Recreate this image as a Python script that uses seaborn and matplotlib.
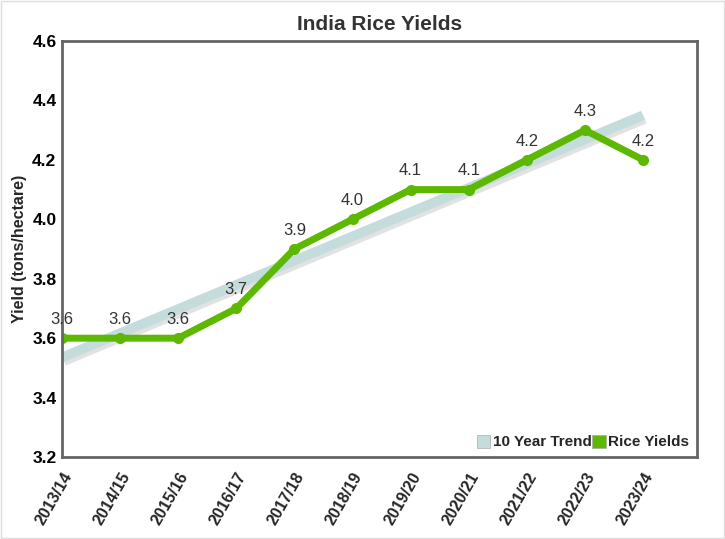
import matplotlib
matplotlib.use("Agg")
import matplotlib.pyplot as plt
import seaborn as sns
import pandas as pd
from matplotlib.patches import Patch

sns.set_style("white")
plt.rcParams['font.family'] = ['Liberation Sans', 'DejaVu Sans']

# Data
years = ["2013/14", "2014/15", "2015/16", "2016/17", "2017/18", "2018/19",
         "2019/20", "2020/21", "2021/22", "2022/23", "2023/24"]
yields = [3.6, 3.6, 3.6, 3.7, 3.9, 4.0, 4.1, 4.1, 4.2, 4.3, 4.2]
trend_years = ["2013/14", "2023/24"]
trend_values = [3.535, 4.35]

df = pd.DataFrame({"year": years, "yield": yields})
df["pos"] = range(len(df))
trend = pd.DataFrame({"year": trend_years, "value": trend_values})
trend["pos"] = [years.index(y) for y in trend_years]

green = "#5cb800"
trend_col = "#c4dcdc"

fig = plt.figure(figsize=(7.25, 5.39), dpi=100)
ax = fig.add_axes([0.0855, 0.152, 0.876, 0.772])

# trend line with faint shadow
sns.lineplot(x=trend["pos"] + 0.03, y=trend["value"] - 0.012, ax=ax,
             color="#e2e2e2", linewidth=7, solid_capstyle="butt")
sns.lineplot(data=trend, x="pos", y="value", ax=ax,
             color=trend_col, linewidth=7, solid_capstyle="butt")
sns.lineplot(data=df, x="pos", y="yield", ax=ax, color=green,
             linewidth=5, marker="o", markersize=8, markeredgewidth=0)

for p, v in zip(df["pos"], df["yield"]):
    ax.annotate(f"{v:.1f}", (p, v), xytext=(0, 8), textcoords="offset points",
                ha="center", va="bottom", fontsize=12, color="#333333")

ax.set_xlim(0, 10.93)
ax.set_ylim(3.2, 4.6)
ax.set_yticks([3.2, 3.4, 3.6, 3.8, 4.0, 4.2, 4.4, 4.6])
ax.set_yticklabels([f"{t:.1f}" for t in ax.get_yticks()],
                   fontsize=12.5, fontweight="bold", color="#000000")
ax.set_xticks(df["pos"])
ax.set_xticklabels(years, rotation=60, ha="right", rotation_mode="anchor",
                   fontsize=11.5, fontweight="bold")
ax.tick_params(axis="x", length=0, pad=9)
ax.tick_params(axis="y", length=0, pad=4)
ax.set_xlabel("")
ax.set_ylabel("Yield (tons/hectare)", fontsize=11.5, fontweight="bold", labelpad=4)
ax.set_title("India Rice Yields", fontsize=15, fontweight="bold",
             color="#333333", pad=8)

for s in ax.spines.values():
    s.set_color("#666666")
    s.set_linewidth(2)

handles = [Patch(facecolor=trend_col, edgecolor="#aaaaaa", linewidth=0.5,
                 label="10 Year Trend"),
           Patch(facecolor=green, edgecolor="#aaaaaa", linewidth=0.5,
                 label="Rice Yields")]
leg = ax.legend(handles=handles, loc="lower right", ncol=2, frameon=False,
                handlelength=0.9, handleheight=0.9, handletextpad=0.15,
                columnspacing=0.05, borderaxespad=0.1,
                prop={"size": 11, "weight": "bold"})

fig.patches.append(plt.Rectangle((0.002, 0.002), 0.996, 0.996,
                                 transform=fig.transFigure, fill=False,
                                 edgecolor="#dddddd", linewidth=1))

fig.savefig("out.png", dpi=100)
